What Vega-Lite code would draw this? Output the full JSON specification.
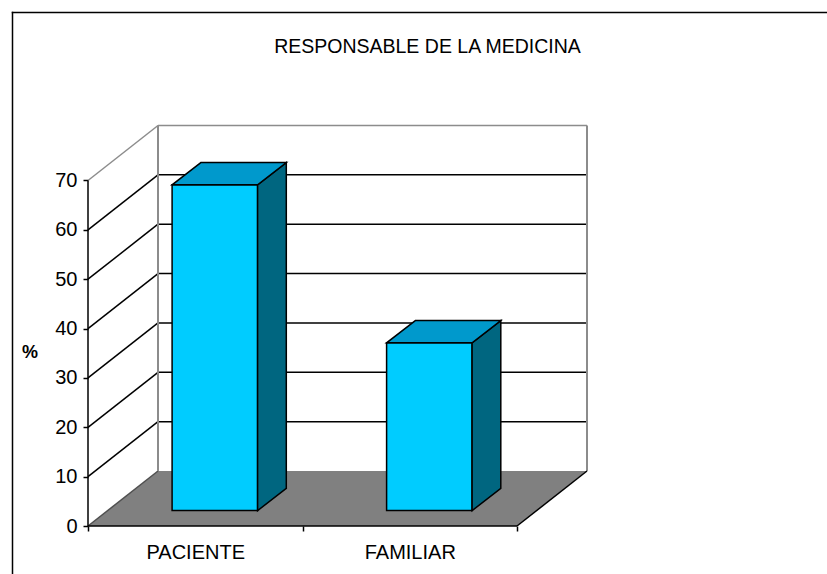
{
  "$schema": "https://vega.github.io/schema/vega-lite/v6.json",
  "width": 815,
  "height": 562,
  "autosize": {"type": "none"},
  "padding": {"left": 12, "top": 12, "right": 0, "bottom": 0},
  "background": "white",
  "config": {"view": {"stroke": null}, "font": "Liberation Sans"},
  "title": {
    "text": "RESPONSABLE DE LA MEDICINA",
    "fontSize": 19.5,
    "fontWeight": "normal",
    "color": "black",
    "anchor": "middle",
    "frame": "group",
    "baseline": "alphabetic",
    "offset": -60,
    "dx": 8
  },
  "datasets": {
    "bars": [
      {"category": "PACIENTE", "value": 66},
      {"category": "FAMILIAR", "value": 34}
    ],
    "ticks": [
      {"t": 0}, {"t": 10}, {"t": 20}, {"t": 30}, {"t": 40}, {"t": 50}, {"t": 60}, {"t": 70}
    ]
  },
  "resolve": {"axis": {"x": "independent", "y": "independent"}},
  "layer": [
    {
      "data": {"name": "ticks"},
      "transform": [
        {"filter": "datum.t === 0"},
        {"calculate": "[0, 1]", "as": "d"},
        {"flatten": ["d"]},
        {"calculate": "11.14 * datum.d", "as": "fy"},
        {"calculate": "70 * datum.d", "as": "fx1"},
        {"calculate": "429 + 70 * datum.d", "as": "fx2"}
      ],
      "mark": {"type": "area", "orient": "horizontal", "fill": "#808080", "opacity": 1},
      "encoding": {
        "y": {"field": "fy", "type": "quantitative",
          "scale": {"domain": [-9.72, 104.13], "nice": false, "zero": false},
          "axis": {"orient": "left", "offset": 0, "domain": true, "domainColor": "black", "domainWidth": 1.5, "domainCap": "square", "labels": false, "ticks": false, "grid": false, "title": null}},
        "x": {"field": "fx1", "type": "quantitative",
          "scale": {"domain": [-76, 739], "nice": false, "zero": false},
          "axis": {"orient": "top", "offset": 0, "domain": true, "domainColor": "black", "domainWidth": 1.5, "domainCap": "square", "labels": false, "ticks": false, "grid": false, "title": null}},
        "x2": {"field": "fx2"}
      }
    },
    {
      "data": {"name": "ticks"},
      "transform": [
        {"calculate": "datum.t + 11.14", "as": "tb"},
        {"calculate": "0", "as": "xa"},
        {"calculate": "70", "as": "xb"}
      ],
      "mark": {"type": "rule", "strokeWidth": 1.5},
      "encoding": {
        "x": {"field": "xa", "type": "quantitative",
          "scale": {"domain": [-76, 739], "nice": false, "zero": false}, "axis": null},
        "x2": {"field": "xb"},
        "y": {"field": "t", "type": "quantitative",
          "scale": {"domain": [-9.72, 104.13], "nice": false, "zero": false},
          "axis": {"orient": "left", "offset": -76, "values": [0, 10, 20, 30, 40, 50, 60, 70], "domain": false, "ticks": true, "tickSize": 5, "tickColor": "black", "tickWidth": 1.5, "labelFontSize": 20, "labelColor": "black", "labelPadding": 6, "labelOverlap": false, "labelFlush": false, "grid": false,
            "title": "%", "titleAngle": 0, "titleFontWeight": "bold", "titleFontSize": 18, "titleColor": "black", "titleX": -58.5, "titleY": 340, "titleAlign": "center", "titleBaseline": "middle"}},
        "y2": {"field": "tb"},
        "color": {
          "condition": [
            {"test": "datum.t === 70", "value": "#8c8c8c"},
            {"test": "datum.t === 0", "value": "#505050"}
          ],
          "value": "black"
        }
      }
    },
    {
      "data": {"name": "ticks"},
      "transform": [
        {"filter": "datum.t > 0"},
        {"calculate": "datum.t + 11.14", "as": "tb"},
        {"calculate": "70", "as": "xa"},
        {"calculate": "499", "as": "xb"}
      ],
      "mark": {"type": "rule", "strokeWidth": 1.5},
      "encoding": {
        "x": {"field": "xa", "type": "quantitative",
          "scale": {"domain": [-76, 739], "nice": false, "zero": false}, "axis": null},
        "x2": {"field": "xb"},
        "y": {"field": "tb", "type": "quantitative",
          "scale": {"domain": [-9.72, 104.13], "nice": false, "zero": false}, "axis": null},
        "color": {
          "condition": {"test": "datum.t === 70", "value": "#8c8c8c"},
          "value": "black"
        }
      }
    },
    {
      "data": {"name": "ticks"},
      "transform": [
        {"filter": "datum.t === 70"},
        {"calculate": "[70, 499]", "as": "wx"},
        {"flatten": ["wx"]},
        {"calculate": "11.14", "as": "ya"},
        {"calculate": "datum.t + 11.14", "as": "yb"}
      ],
      "mark": {"type": "rule", "strokeWidth": 2, "color": "#8c8c8c"},
      "encoding": {
        "x": {"field": "wx", "type": "quantitative",
          "scale": {"domain": [-76, 739], "nice": false, "zero": false}, "axis": null},
        "y": {"field": "ya", "type": "quantitative",
          "scale": {"domain": [-9.72, 104.13], "nice": false, "zero": false}, "axis": null},
        "y2": {"field": "yb"}
      }
    },
    {
      "data": {"name": "ticks"},
      "transform": [
        {"filter": "datum.t === 70"},
        {"calculate": "0", "as": "xa"},
        {"calculate": "0", "as": "ya"}
      ],
      "mark": {"type": "rule", "strokeWidth": 1.5, "color": "black"},
      "encoding": {
        "x": {"field": "xa", "type": "quantitative",
          "scale": {"domain": [-76, 739], "nice": false, "zero": false}, "axis": null},
        "y": {"field": "ya", "type": "quantitative",
          "scale": {"domain": [-9.72, 104.13], "nice": false, "zero": false}, "axis": null},
        "y2": {"field": "t"}
      }
    },
    {
      "data": {"name": "ticks"},
      "transform": [
        {"filter": "datum.t === 0"},
        {"calculate": "0", "as": "xa"},
        {"calculate": "429", "as": "xb"}
      ],
      "mark": {"type": "rule", "strokeWidth": 1.5, "color": "black"},
      "encoding": {
        "x": {"field": "xa", "type": "quantitative",
          "scale": {"domain": [-76, 739], "nice": false, "zero": false},
          "axis": {"orient": "bottom", "offset": -48, "values": [0, 214.5, 429], "domain": false, "ticks": true, "tickSize": 5, "tickColor": "black", "tickWidth": 1.5, "labelOffset": 107.25, "labelExpr": "datum.value < 100 ? 'PACIENTE' : (datum.value < 300 ? 'FAMILIAR' : '')", "labelFontSize": 20, "labelColor": "black", "labelPadding": 11, "labelOverlap": false, "labelFlush": false, "labelBound": false, "grid": false, "title": null}},
        "x2": {"field": "xb"},
        "y": {"field": "t", "type": "quantitative",
          "scale": {"domain": [-9.72, 104.13], "nice": false, "zero": false}, "axis": null}
      }
    },
    {
      "data": {"name": "ticks"},
      "transform": [
        {"filter": "datum.t === 0"},
        {"calculate": "429", "as": "xa"},
        {"calculate": "499", "as": "xb"},
        {"calculate": "11.14", "as": "yb"}
      ],
      "mark": {"type": "rule", "strokeWidth": 1.5, "color": "black"},
      "encoding": {
        "x": {"field": "xa", "type": "quantitative",
          "scale": {"domain": [-76, 739], "nice": false, "zero": false}, "axis": null},
        "x2": {"field": "xb"},
        "y": {"field": "t", "type": "quantitative",
          "scale": {"domain": [-9.72, 104.13], "nice": false, "zero": false}, "axis": null},
        "y2": {"field": "yb"}
      }
    },
    {
      "data": {"name": "bars"},
      "transform": [
        {"window": [{"op": "row_number", "as": "rn"}]},
        {"calculate": "(datum.rn - 0.5) * 214.5", "as": "cx"},
        {"calculate": "datum.cx - 42.75 + 19.6", "as": "fx1"},
        {"calculate": "datum.cx + 42.75 + 19.6", "as": "fx2"},
        {"calculate": "3.12", "as": "fy1"},
        {"calculate": "datum.value + 3.12", "as": "fy2"}
      ],
      "mark": {"type": "rect", "fill": "#00CCFF", "stroke": "black", "strokeWidth": 1.5, "opacity": 1},
      "encoding": {
        "x": {"field": "fx1", "type": "quantitative",
          "scale": {"domain": [-76, 739], "nice": false, "zero": false}, "axis": null},
        "x2": {"field": "fx2"},
        "y": {"field": "fy1", "type": "quantitative",
          "scale": {"domain": [-9.72, 104.13], "nice": false, "zero": false}, "axis": null},
        "y2": {"field": "fy2"}
      }
    },
    {
      "data": {"name": "bars"},
      "transform": [
        {"window": [{"op": "row_number", "as": "rn"}]},
        {"calculate": "(datum.rn - 0.5) * 214.5", "as": "cx"},
        {"calculate": "[0, 1]", "as": "k"},
        {"flatten": ["k"]},
        {"calculate": "datum.cx + 42.75 + 19.6 + 28.7 * datum.k", "as": "sx"},
        {"calculate": "3.12 + 4.5 * datum.k", "as": "sy"},
        {"calculate": "datum.value + 3.12 + 4.5 * datum.k", "as": "sy2"}
      ],
      "mark": {"type": "area", "orient": "vertical", "fill": "#006680", "stroke": "black", "strokeWidth": 1.5, "strokeJoin": "miter", "opacity": 1},
      "encoding": {
        "x": {"field": "sx", "type": "quantitative",
          "scale": {"domain": [-76, 739], "nice": false, "zero": false}, "axis": null},
        "y": {"field": "sy", "type": "quantitative",
          "scale": {"domain": [-9.72, 104.13], "nice": false, "zero": false}, "axis": null},
        "y2": {"field": "sy2"},
        "detail": {"field": "category", "type": "nominal"}
      }
    },
    {
      "data": {"name": "bars"},
      "transform": [
        {"window": [{"op": "row_number", "as": "rn"}]},
        {"calculate": "(datum.rn - 0.5) * 214.5", "as": "cx"},
        {"calculate": "[0, 1]", "as": "k"},
        {"flatten": ["k"]},
        {"calculate": "datum.cx - 42.75 + 19.6 + 28.7 * datum.k", "as": "tx1"},
        {"calculate": "datum.cx + 42.75 + 19.6 + 28.7 * datum.k", "as": "tx2"},
        {"calculate": "datum.value + 3.12 + 4.5 * datum.k", "as": "ty"}
      ],
      "mark": {"type": "area", "orient": "horizontal", "fill": "#0099CC", "stroke": "black", "strokeWidth": 1.5, "strokeJoin": "miter", "opacity": 1},
      "encoding": {
        "y": {"field": "ty", "type": "quantitative",
          "scale": {"domain": [-9.72, 104.13], "nice": false, "zero": false}, "axis": null},
        "x": {"field": "tx1", "type": "quantitative",
          "scale": {"domain": [-76, 739], "nice": false, "zero": false}, "axis": null},
        "x2": {"field": "tx2"},
        "detail": {"field": "category", "type": "nominal"}
      }
    }
  ]
}
